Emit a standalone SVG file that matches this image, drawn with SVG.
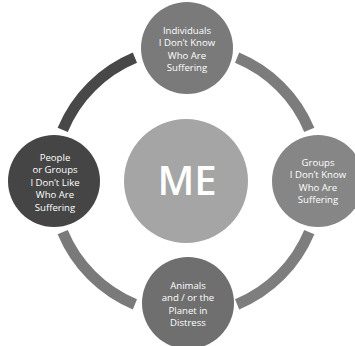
<svg xmlns="http://www.w3.org/2000/svg" width="355" height="346" viewBox="0 0 355 346">
<style>
.arc{fill:none;stroke-width:11;stroke-linecap:butt}
.lbl{font-family:"Open Sans","Liberation Sans",sans-serif;font-size:9.6px;fill:#ffffff;text-anchor:middle}
.me{font-family:"Open Sans","Liberation Sans",sans-serif;font-size:40px;fill:#ffffff;text-anchor:middle;font-weight:600}
</style>
<rect width="355" height="346" fill="#ffffff"/>
<g id="connectors">
<path class="arc" stroke="#484848" d="M62.7,129.9 A133.5,133.5 0 0 1 134.9,57.7"/>
<path class="arc" stroke="#7c7c7c" d="M237.1,57.7 A133.5,133.5 0 0 1 309.3,129.9"/>
<path class="arc" stroke="#7e7e7e" d="M309.3,232.1 A133.5,133.5 0 0 1 237.1,304.3"/>
<path class="arc" stroke="#7a7a7a" d="M134.9,304.3 A133.5,133.5 0 0 1 62.7,232.1"/>
</g>
<g id="me">
<circle cx="186" cy="181" r="62" fill="#a5a5a5"/>
<text class="me" x="187" y="195">ME</text>
</g>
<g id="top">
<circle cx="187" cy="48" r="46" fill="#7a7a7a"/>
<text class="lbl" x="187" y="33.5">Individuals</text>
<text class="lbl" x="187" y="46">I Don’t Know</text>
<text class="lbl" x="187" y="58.5">Who Are</text>
<text class="lbl" x="187" y="71">Suffering</text>
</g>
<g id="left">
<circle cx="54" cy="181" r="46" fill="#454545"/>
<text class="lbl" x="55" y="160.5">People</text>
<text class="lbl" x="55" y="173">or Groups</text>
<text class="lbl" x="55" y="185.5">I Don’t Like</text>
<text class="lbl" x="55" y="198">Who Are</text>
<text class="lbl" x="55" y="210.5">Suffering</text>
</g>
<g id="right">
<circle cx="318" cy="181" r="46" fill="#868686"/>
<text class="lbl" x="318" y="165.5">Groups</text>
<text class="lbl" x="318" y="178">I Don’t Know</text>
<text class="lbl" x="318" y="190.5">Who Are</text>
<text class="lbl" x="318" y="203">Suffering</text>
</g>
<g id="bottom">
<circle cx="188" cy="303" r="46" fill="#6f6f6f"/>
<text class="lbl" x="188" y="288.5">Animals</text>
<text class="lbl" x="188" y="301">and / or the</text>
<text class="lbl" x="188" y="313.5">Planet in</text>
<text class="lbl" x="188" y="326">Distress</text>
</g>
</svg>
